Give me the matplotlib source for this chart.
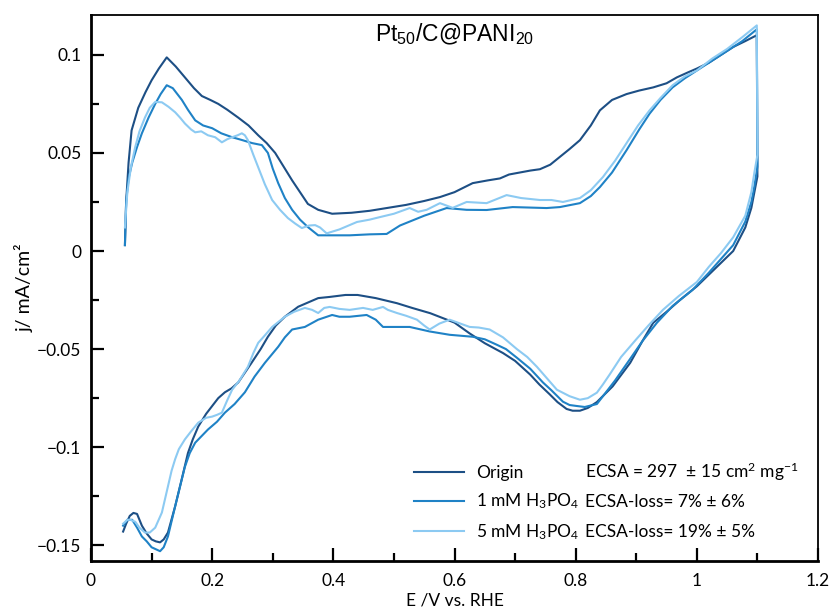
import matplotlib
matplotlib.use("Agg")
import matplotlib.pyplot as plt
from matplotlib.ticker import MultipleLocator

# Origin: anodic scan, then cathodic scan
E_origin = [0.056, 0.058, 0.062, 0.067, 0.078, 0.090, 0.100, 0.112, 0.125, 0.140, 0.155, 0.170, 0.183, 0.197,
            0.210, 0.225, 0.243, 0.260, 0.276, 0.290, 0.304, 0.318, 0.332, 0.345, 0.358, 0.375, 0.398, 0.430,
            0.460, 0.488, 0.520, 0.550, 0.576, 0.600, 0.630, 0.655, 0.675, 0.690, 0.708, 0.725, 0.741, 0.758,
            0.774, 0.790, 0.807, 0.825, 0.840, 0.860, 0.884, 0.905, 0.928, 0.950, 0.967, 0.985, 1.000, 1.020,
            1.040, 1.060, 1.080, 1.099, 1.100,
            1.095, 1.090, 1.080, 1.070, 1.060, 1.040, 1.020, 1.000, 0.972, 0.950, 0.928, 0.910, 0.890, 0.861,
            0.835, 0.820, 0.807, 0.795, 0.785, 0.770, 0.757, 0.740, 0.725, 0.700, 0.680, 0.650, 0.625, 0.600,
            0.560, 0.530, 0.505, 0.470, 0.440, 0.420, 0.394, 0.375, 0.360, 0.342, 0.320, 0.305, 0.292, 0.280,
            0.265, 0.254, 0.243, 0.232, 0.221, 0.210, 0.200, 0.190, 0.177, 0.168, 0.160, 0.150, 0.139, 0.127,
            0.120, 0.114, 0.107, 0.100, 0.092, 0.084, 0.076, 0.070, 0.064, 0.058, 0.053]
j_origin = [0.003, 0.025, 0.045, 0.0615, 0.073, 0.081, 0.087, 0.093, 0.0987, 0.094, 0.0885, 0.083, 0.079, 0.077,
            0.075, 0.072, 0.068, 0.064, 0.059, 0.055, 0.050, 0.043, 0.036, 0.030, 0.024, 0.021, 0.019, 0.0195,
            0.0205, 0.0219, 0.0235, 0.0255, 0.0275, 0.030, 0.0346, 0.036, 0.037, 0.039, 0.040, 0.041, 0.0417, 0.044,
            0.048, 0.052, 0.0565, 0.064, 0.0717, 0.077, 0.080, 0.0818, 0.0834, 0.0855, 0.0885, 0.091, 0.093, 0.096,
            0.100, 0.104, 0.107, 0.110, 0.038,
            0.030, 0.022, 0.012, 0.006, 0.000, -0.006, -0.012, -0.018, -0.025, -0.031, -0.0366, -0.046, -0.057, -0.069,
            -0.077, -0.080, -0.0814, -0.0814, -0.0805, -0.077, -0.073, -0.068, -0.063, -0.056, -0.052, -0.047, -0.042, -0.0365,
            -0.0317, -0.029, -0.0266, -0.024, -0.0224, -0.0224, -0.0234, -0.024, -0.026, -0.0284, -0.0335, -0.038, -0.0437, -0.050,
            -0.057, -0.062, -0.067, -0.070, -0.072, -0.075, -0.079, -0.083, -0.0895, -0.096, -0.103, -0.116, -0.130, -0.1435,
            -0.147, -0.1485, -0.148, -0.147, -0.144, -0.140, -0.134, -0.1335, -0.135, -0.139, -0.143]

# 1 mM H3PO4
E_1mM = [0.056, 0.058, 0.062, 0.068, 0.076, 0.084, 0.095, 0.106, 0.115, 0.125, 0.135, 0.150, 0.160, 0.172, 0.185,
         0.200, 0.215, 0.233, 0.250, 0.266, 0.282, 0.292, 0.300, 0.309, 0.320, 0.332, 0.345, 0.358, 0.375, 0.400,
         0.427, 0.460, 0.488, 0.510, 0.550, 0.587, 0.620, 0.653, 0.696, 0.752, 0.774, 0.807, 0.825, 0.840, 0.860,
         0.884, 0.905, 0.922, 0.940, 0.960, 0.980, 1.000, 1.025, 1.050, 1.075, 1.099, 1.100,
         1.095, 1.090, 1.080, 1.060, 1.040, 1.020, 0.993, 0.960, 0.934, 0.910, 0.889, 0.865, 0.845, 0.835, 0.815,
         0.802, 0.790, 0.779, 0.760, 0.746, 0.725, 0.703, 0.685, 0.670, 0.650, 0.630, 0.592, 0.559, 0.526, 0.500,
         0.482, 0.470, 0.455, 0.427, 0.410, 0.398, 0.375, 0.353, 0.332, 0.320, 0.309, 0.287, 0.270, 0.254, 0.237,
         0.221, 0.208, 0.193, 0.172, 0.163, 0.155, 0.139, 0.127, 0.120, 0.114, 0.107, 0.100, 0.092, 0.084, 0.076,
         0.068, 0.060, 0.053]
j_1mM = [0.003, 0.025, 0.037, 0.045, 0.053, 0.060, 0.068, 0.075, 0.080, 0.0845, 0.083, 0.077, 0.072, 0.0666, 0.064,
         0.0626, 0.060, 0.058, 0.0565, 0.055, 0.054, 0.050, 0.042, 0.0346, 0.027, 0.021, 0.016, 0.0122, 0.008, 0.008,
         0.008, 0.0085, 0.0087, 0.013, 0.018, 0.0219, 0.021, 0.0209, 0.0224, 0.0219, 0.0224, 0.0244, 0.028, 0.0326, 0.040,
         0.0514, 0.062, 0.070, 0.077, 0.0834, 0.088, 0.092, 0.097, 0.102, 0.107, 0.113, 0.043,
         0.033, 0.025, 0.015, 0.003, -0.004, -0.011, -0.0198, -0.028, -0.0366, -0.046, -0.0554, -0.066, -0.074, -0.078, -0.0795,
         -0.079, -0.0785, -0.0768, -0.071, -0.067, -0.060, -0.0544, -0.050, -0.0478, -0.045, -0.0437, -0.0427, -0.041, -0.0387, -0.0387,
         -0.0387, -0.035, -0.0326, -0.0335, -0.0335, -0.0326, -0.035, -0.0387, -0.040, -0.044, -0.0488, -0.057, -0.064, -0.072, -0.078,
         -0.0824, -0.087, -0.091, -0.0977, -0.103, -0.110, -0.130, -0.1455, -0.151, -0.153, -0.152, -0.151, -0.148, -0.1455, -0.141,
         -0.137, -0.137, -0.140]

# 5 mM H3PO4
E_5mM = [0.056, 0.060, 0.066, 0.073, 0.080, 0.089, 0.097, 0.106, 0.117, 0.128, 0.139, 0.147, 0.155, 0.165, 0.172,
         0.182, 0.193, 0.205, 0.216, 0.225, 0.233, 0.242, 0.249, 0.254, 0.259, 0.268, 0.276, 0.287, 0.299, 0.312,
         0.325, 0.337, 0.348, 0.360, 0.370, 0.378, 0.389, 0.410, 0.439, 0.460, 0.477, 0.500, 0.526, 0.540, 0.554,
         0.576, 0.597, 0.620, 0.653, 0.686, 0.710, 0.741, 0.760, 0.779, 0.807, 0.825, 0.845, 0.865, 0.884, 0.903,
         0.922, 0.940, 0.960, 0.980, 1.000, 1.025, 1.050, 1.075, 1.099, 1.100,
         1.095, 1.090, 1.080, 1.060, 1.040, 1.020, 1.000, 0.970, 0.944, 0.920, 0.900, 0.875, 0.856, 0.845, 0.835,
         0.820, 0.807, 0.790, 0.769, 0.750, 0.736, 0.720, 0.703, 0.680, 0.658, 0.640, 0.625, 0.610, 0.592, 0.575,
         0.559, 0.550, 0.538, 0.520, 0.505, 0.490, 0.482, 0.465, 0.449, 0.427, 0.410, 0.394, 0.385, 0.375, 0.365,
         0.353, 0.335, 0.320, 0.310, 0.299, 0.287, 0.276, 0.268, 0.259, 0.245, 0.233, 0.225, 0.216, 0.208, 0.200,
         0.190, 0.177, 0.165, 0.155, 0.145, 0.139, 0.133, 0.127, 0.117, 0.106, 0.097, 0.089, 0.080, 0.073, 0.065,
         0.060, 0.053]
j_5mM = [0.012, 0.030, 0.043, 0.053, 0.061, 0.068, 0.073, 0.076, 0.0758, 0.0735, 0.0707, 0.068, 0.065, 0.062, 0.0605,
         0.061, 0.059, 0.058, 0.0554, 0.057, 0.058, 0.059, 0.060, 0.059, 0.0565, 0.049, 0.0427, 0.034, 0.026, 0.021,
         0.0168, 0.014, 0.0117, 0.013, 0.0132, 0.012, 0.009, 0.011, 0.0148, 0.016, 0.0173, 0.019, 0.0219, 0.020, 0.021,
         0.0244, 0.022, 0.025, 0.0244, 0.0285, 0.027, 0.026, 0.026, 0.025, 0.027, 0.031, 0.0377, 0.046, 0.055, 0.064,
         0.0717, 0.078, 0.0845, 0.089, 0.092, 0.098, 0.103, 0.109, 0.115, 0.049,
         0.040, 0.030, 0.018, 0.007, -0.001, -0.008, -0.0158, -0.023, -0.030, -0.038, -0.045, -0.054, -0.063, -0.068, -0.0722,
         -0.075, -0.0758, -0.074, -0.0707, -0.064, -0.059, -0.054, -0.050, -0.044, -0.040, -0.039, -0.0387, -0.037, -0.035, -0.037,
         -0.040, -0.038, -0.035, -0.033, -0.0316, -0.030, -0.0285, -0.030, -0.029, -0.030, -0.0295, -0.0285, -0.029, -0.0316, -0.030,
         -0.029, -0.031, -0.0335, -0.036, -0.0387, -0.043, -0.0468, -0.052, -0.059, -0.066, -0.0707, -0.076, -0.0824, -0.0835, -0.0844,
         -0.085, -0.0875, -0.092, -0.096, -0.101, -0.106, -0.112, -0.120, -0.1333, -0.141, -0.1435, -0.1435, -0.141, -0.138, -0.137,
         -0.137, -0.139]

labels = ["Origin", r"1 mM $\mathregular{H_3PO_4}$", r"5 mM $\mathregular{H_3PO_4}$"]
ecsa_texts = [r"ECSA = 297  ± 15 cm$\mathregular{^2}$ mg$\mathregular{^{-1}}$",
              "ECSA-loss= 7% ± 6%",
              "ECSA-loss= 19% ± 5%"]
colors = ["#1d4f85", "#1f82c6", "#8ccaf2"]

xticks = [0, 0.2, 0.4, 0.6, 0.8, 1.0, 1.2]
xticklabels = ["0", "0.2", "0.4", "0.6", "0.8", "1", "1.2"]
yticks = [-0.15, -0.1, -0.05, 0, 0.05, 0.1]
yticklabels = ["\u22120.15", "\u22120.1", "\u22120.05", "0", "0.05", "0.1"]

plt.rcParams["font.family"] = ["Lato", "DejaVu Sans"]
plt.rcParams["mathtext.fontset"] = "custom"

fig = plt.figure(figsize=(8.34, 6.14), dpi=100)
ax = fig.add_axes([91 / 834, 1 - 561 / 614, (818 - 91) / 834, (561 - 15) / 614])

series = [(E_origin, j_origin), (E_1mM, j_1mM), (E_5mM, j_5mM)]
for (E, j), c, lab in zip(series, colors, labels):
    ax.plot(E, j, color=c, lw=1.5, label=lab)

ax.set_xlim(0, 1.2)
ax.set_ylim(-0.158, 0.1203)
ax.set_xticks(xticks)
ax.set_xticklabels(xticklabels)
ax.set_yticks(yticks)
ax.set_yticklabels(yticklabels)
ax.xaxis.set_minor_locator(MultipleLocator(0.1))
ax.yaxis.set_minor_locator(MultipleLocator(0.025))
ax.tick_params(which="both", direction="in", width=1.6, labelsize=12.5, top=False, right=False)
ax.tick_params(which="major", length=9.5)
ax.tick_params(which="minor", length=6)
ax.tick_params(axis="x", which="major", pad=9)
ax.tick_params(axis="y", which="major", pad=7)

for s in ["left", "bottom"]:
    ax.spines[s].set_linewidth(2.0)
for s in ["top", "right"]:
    ax.spines[s].set_linewidth(1.3)

ax.set_xlabel("E /V vs. RHE", fontsize=12.5, labelpad=2)
ax.set_ylabel("j/ mA/cm²", fontsize=14, labelpad=2)

ax.text(0.6, 0.1105, r"Pt$\mathregular{_{50}}$/C@PANI$\mathregular{_{20}}$", fontsize=16.5,
        family="Liberation Sans", ha="center", va="center")

leg = ax.legend(loc="upper left", bbox_to_anchor=(0.533, -0.109), bbox_transform=ax.transData,
                frameon=False, fontsize=12.5, handlelength=2.9, handletextpad=0.7,
                labelspacing=0.62, borderpad=0, borderaxespad=0)

ecsa_y = [-0.1155, -0.1307, -0.1460]
for y, t in zip(ecsa_y, ecsa_texts):
    ax.text(0.815, y, t, fontsize=12.5, ha="left", va="baseline")

fig.savefig("out.png", dpi=100)
